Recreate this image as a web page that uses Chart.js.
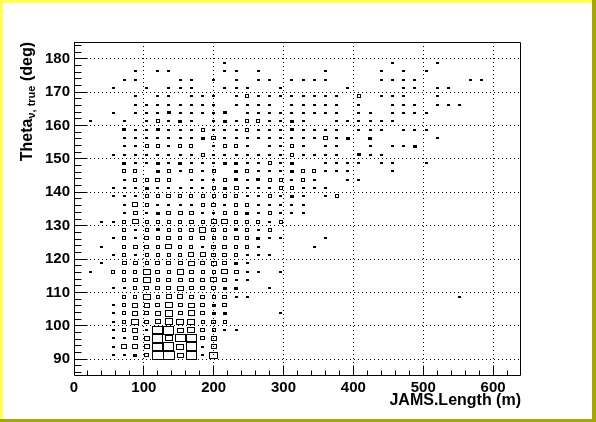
<!DOCTYPE html>
<html>
<head>
<meta charset="utf-8">
<title>Theta vs JAMS.Length</title>
<script src="https://cdn.jsdelivr.net/npm/chart.js@4.4.1/dist/chart.umd.min.js"></script>
<style>
  html, body { margin: 0; padding: 0; background: #fff; }
  canvas { display: block; }
</style>
</head>
<body>
<canvas id="boxChart" width="596" height="422"></canvas>
<script>
// histogram ranges (40 x 40 bins)
const lengthRange = [0, 640];
const thetaRange = [85, 185];
const nLengthBins = 40;
const nThetaBins = 40;
const lengthTicks = [0, 100, 200, 300, 400, 500, 600];
const thetaTicks = [90, 100, 110, 120, 130, 140, 150, 160, 170, 180];
const lengthMinorStep = 20;
const thetaMinorStep = 2;

// centre of every filled theta row, top to bottom
const thetaRows = [178.75, 176.25, 173.75, 171.25, 168.75, 166.25, 163.75, 161.25, 158.75,
    156.25, 153.75, 151.25, 148.75, 146.25, 143.75, 141.25, 138.75, 136.25, 133.75, 131.25,
    128.75, 126.25, 123.75, 121.25, 118.75, 116.25, 113.75, 111.25, 108.75, 106.25, 103.75,
    101.25, 98.75, 96.25, 93.75, 91.25];

// entries per length bin (16 m bins, index 0 = 0-16 m), one line per theta row above
const cellCounts = [
    [0,0,0,0,0,0,0,0,0,0, 0,0,0,1,0,0,0,0,0,0, 0,0,0,0,0,0,0,0,1,0, 0,0,1],
    [0,0,0,0,0,1,0,1,1,0, 0,0,0,1,1,0,1,0,0,0, 0,0,1,0,0,0,0,1,0,1, 0,1],
    [0,0,0,0,1,1,0,0,0,1, 1,0,1,0,1,0,1,1,0,1, 1,1,1,0,0,0,0,1,1,1, 1,0,0,0,0,1,1],
    [0,0,0,1,0,0,1,0,1,1, 1,0,0,1,1,1,0,0,1,0, 0,0,0,0,1,0,0,0,0,1, 1,0,1,1],
    [0,0,0,0,0,1,0,1,1,0, 1,1,1,0,1,3,1,1,1,1, 1,1,1,1,0,3,0,1,1,1, 0,0,1],
    [0,0,0,0,0,1,1,1,1,1, 1,1,1,0,1,1,1,1,0,1, 1,1,1,1,0,1,0,0,1,1, 1,0,1,1,1],
    [0,0,0,1,0,1,1,1,2,1, 1,1,1,2,0,1,1,1,1,1, 1,1,1,1,0,1,1,0,1,1, 1,1],
    [0,1,0,0,1,0,1,3,1,2, 1,0,1,2,1,3,3,1,1,2, 1,0,0,1,1,1,1,1,1],
    [0,0,0,0,2,1,1,2,1,1, 1,3,1,1,1,3,1,1,1,2, 1,1,1,1,0,1,1,1,0,1, 1,1],
    [0,0,0,0,1,1,1,1,1,1, 1,2,4,1,1,1,1,1,1,1, 1,1,4,1,2,0,2,0,0,0, 0,0,1],
    [0,0,0,0,1,1,3,3,1,3, 3,0,1,3,3,1,0,1,1,3, 1,0,1,1,0,0,1,0,1,1, 2],
    [0,0,0,1,1,1,1,1,1,1, 1,3,1,1,1,1,1,1,1,3, 1,1,1,1,0,2,1,1],
    [0,0,0,0,2,1,1,2,1,2, 1,1,1,2,2,1,1,3,1,2, 0,0,1,1,1,1,0,1,1,0, 0,1],
    [0,0,0,0,3,3,0,2,3,1, 3,1,3,0,2,3,1,1,1,2, 3,3,1,1,1,0,0,0,1],
    [0,0,0,0,1,3,3,4,3,0, 1,1,1,3,2,1,2,3,3,1, 3,1,0,0,1,1],
    [0,0,0,1,1,1,2,1,1,1, 1,1,3,2,4,1,1,1,3,3, 1,1,1],
    [0,0,0,1,1,1,3,3,5,3, 3,3,3,3,3,1,1,3,1,2, 1,0,1,3],
    [0,0,0,0,1,6,3,1,1,1, 1,3,4,1,3,3,1,1,1,1, 1],
    [0,0,0,0,1,4,1,2,4,4, 4,1,1,3,3,2,1,3,1,1, 1],
    [0,0,1,1,3,8,3,3,3,3, 5,3,6,8,3,3,3,1,3],
    [0,0,0,0,3,1,3,2,3,3, 4,10,4,3,2,3,1,3],
    [0,0,0,1,3,1,4,3,4,3, 3,4,3,3,4,3,2,1,1,0, 0,0,1],
    [0,0,1,0,3,4,4,3,8,3, 3,1,4,4,3,3,1,0,0,0, 0,1],
    [0,0,0,1,3,1,3,3,3,3, 6,6,4,4,3,1,1,1],
    [0,0,1,0,4,4,3,4,4,4, 8,4,6,4,2,1],
    [0,1,0,3,3,3,12,4,3,10, 4,3,3,8,4,1,1,0,1],
    [0,0,0,0,3,4,12,3,4,4, 4,4,8,4,1,1],
    [0,0,0,1,1,3,4,4,4,8, 4,4,4,2,2,0,0,1],
    [0,0,0,0,3,3,12,3,6,6, 4,4,3,4,1,1,0,0,0,0, 0,0,0,0,0,0,0,0,0,0, 0,0,0,0,1],
    [0,0,0,1,3,6,6,4,12,4, 8,4,2,4],
    [0,0,0,1,3,6,4,6,14,4, 10,4,2,2,0,0,0,0,1],
    [0,0,0,1,3,12,4,6,14,12, 12,3,4,3],
    [0,0,0,1,3,6,1,24,28,8, 12,4,3,1,1],
    [0,0,0,1,1,4,6,28,12,24, 24,4,6],
    [0,0,0,1,6,6,6,24,28,12, 28,1,6],
    [0,0,0,1,1,2,4,32,32,8, 28,1,18]
];

const FONT = '"Liberation Sans", Arial, Helvetica, sans-serif';
const frame = { left: 74, top: 42, right: 521, bottom: 376 };
const canvasW = 596, canvasH = 422;

const lengthBinW = (lengthRange[1] - lengthRange[0]) / nLengthBins;
const thetaBinW = (thetaRange[1] - thetaRange[0]) / nThetaBins;
const pxPerLength = (frame.right - frame.left) / (lengthRange[1] - lengthRange[0]);
const pxPerTheta = (frame.bottom - frame.top) / (thetaRange[1] - thetaRange[0]);
const maxCount = Math.max(...cellCounts.flat());

// bar width is a per-dataset option, so one dataset per distinct bin content
const levels = [...new Set(cellCounts.flat())].filter(v => v > 0).sort((a, b) => a - b);

const datasets = levels.map(level => {
    // box area proportional to content, like ROOT's BOX option
    const f = Math.sqrt(level / maxCount);
    const wPx = Math.round(lengthBinW * pxPerLength * f + 1);
    const hPx = Math.round(thetaBinW * pxPerTheta * f + 1);
    const h = hPx / pxPerTheta;
    const points = [];
    cellCounts.forEach((row, r) => {
        row.forEach((n, i) => {
            if (n !== level) return;
            const xc = lengthRange[0] + (i + 0.5) * lengthBinW;
            points.push({ x: xc, y: [thetaRows[r] - h / 2, thetaRows[r] + h / 2] });
        });
    });
    return {
        label: 'n=' + level,
        data: points,
        grouped: false,
        barThickness: wPx,
        inflateAmount: 0,
        borderWidth: 1,
        borderColor: '#000',
        borderSkipped: false,
        backgroundColor: level <= 2 ? '#000' : 'rgba(0,0,0,0)'
    };
});

function alignPx(p) {
    return Math.round(p - 0.5) + 0.5;
}

// snap the boxes to whole pixels so the outlines stay crisp like the ROOT output
const snapBoxes = {
    id: 'snapBoxes',
    beforeDatasetsDraw(chart) {
        chart.data.datasets.forEach((ds, di) => {
            chart.getDatasetMeta(di).data.forEach(bar => {
                const w = Math.round(bar.width);
                const left = Math.round(bar.x - w / 2);
                bar.x = left + w / 2;
                bar.width = w;
                const top = Math.round(Math.min(bar.y, bar.base));
                const hh = Math.max(2, Math.round(Math.abs(bar.base - bar.y)));
                bar.y = top;
                bar.base = top + hh;
            });
        });
    }
};

const rootFrame = {
    id: 'rootFrame',
    beforeDraw(chart) {
        const { ctx, width, height } = chart;
        ctx.save();
        ctx.fillStyle = '#ffffff';
        ctx.fillRect(0, 0, width, height);
        ctx.fillStyle = '#a6a600';
        ctx.fillRect(0, height - 3, width, 3);
        ctx.fillRect(width - 4, 0, 4, height);
        ctx.fillStyle = '#ffff50';
        ctx.fillRect(0, 0, width - 4, 3);
        ctx.fillRect(0, 0, 3, height - 3);
        ctx.restore();
    },
    afterDraw(chart) {
        const { ctx, chartArea: a, scales: { x, y } } = chart;
        ctx.save();
        ctx.strokeStyle = '#000';
        ctx.lineWidth = 1;
        ctx.beginPath();
        const L = a.left + 0.5, R = a.right - 0.5, T = a.top + 0.5, B = a.bottom - 0.5;
        ctx.rect(L, T, R - L, B - T);
        // ticks inside the frame
        for (let v = lengthRange[0] + lengthMinorStep; v < lengthRange[1]; v += lengthMinorStep) {
            const px = alignPx(x.getPixelForValue(v));
            const len = v % 100 === 0 ? 10 : 5;
            ctx.moveTo(px, B);
            ctx.lineTo(px, B - len);
        }
        for (let v = 86; v < thetaRange[1]; v += thetaMinorStep) {
            const py = alignPx(y.getPixelForValue(v));
            const len = v % 10 === 0 ? 13 : 7;
            ctx.moveTo(L, py);
            ctx.lineTo(L + len, py);
        }
        ctx.stroke();

        // y title with subscript, right aligned to the frame top
        ctx.translate(32, a.top);
        ctx.rotate(-Math.PI / 2);
        ctx.fillStyle = '#000';
        ctx.textAlign = 'right';
        ctx.textBaseline = 'alphabetic';
        let pos = 0;
        ctx.font = 'bold 16px ' + FONT;
        ctx.fillText(' (deg)', pos, 0);
        pos -= ctx.measureText(' (deg)').width;
        ctx.font = 'bold 11px ' + FONT;
        ctx.fillText('\u03bd, true', pos, 3);
        pos -= ctx.measureText('\u03bd, true').width;
        ctx.font = 'bold 16px ' + FONT;
        ctx.fillText('Theta', pos, 0);
        ctx.restore();
    }
};

const tickFont = { family: FONT, size: 15, weight: 'bold' };

new Chart(document.getElementById('boxChart'), {
    type: 'bar',
    data: { datasets: datasets },
    options: {
        responsive: false,
        animation: false,
        events: [],
        layout: { padding: { left: 0, top: frame.top, right: canvasW - frame.right, bottom: 0 } },
        plugins: {
            legend: { display: false },
            tooltip: { enabled: false }
        },
        scales: {
            x: {
                type: 'linear',
                min: lengthRange[0],
                max: lengthRange[1],
                offset: false,
                afterBuildTicks: s => { s.ticks = lengthTicks.map(v => ({ value: v })); },
                afterFit: s => { s.height = canvasH - frame.bottom; },
                grid: { offset: false, color: '#000', lineWidth: 1, drawTicks: false },
                border: { display: false, dash: [1, 3] },
                ticks: { color: '#000', font: tickFont, padding: 3, maxRotation: 0, autoSkip: false },
                title: {
                    display: true,
                    text: 'JAMS.Length (m)',
                    align: 'end',
                    color: '#000',
                    font: { family: FONT, size: 16, weight: 'bold' },
                    padding: { top: 0, bottom: 12 }
                }
            },
            y: {
                type: 'linear',
                min: thetaRange[0],
                max: thetaRange[1],
                beginAtZero: false,
                afterBuildTicks: s => { s.ticks = thetaTicks.map(v => ({ value: v })); },
                afterFit: s => { s.width = frame.left; },
                grid: { color: '#000', lineWidth: 1, drawTicks: false },
                border: { display: false, dash: [1, 3] },
                ticks: { color: '#000', font: tickFont, padding: 4, autoSkip: false }
            }
        }
    },
    plugins: [snapBoxes, rootFrame]
});
</script>
</body>
</html>
